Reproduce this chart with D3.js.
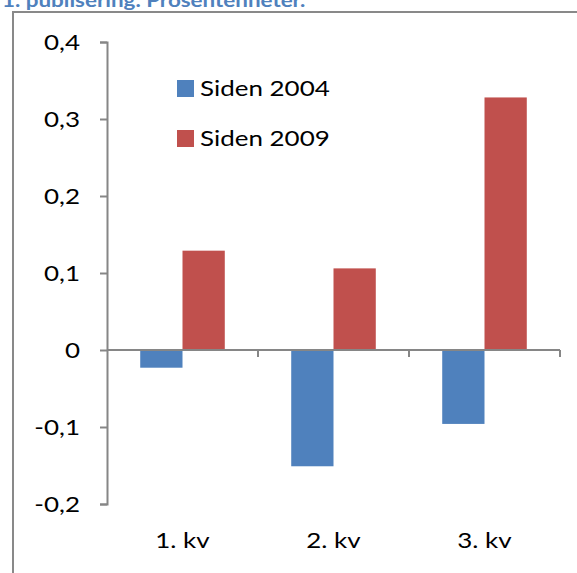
<!DOCTYPE html>
<html>
<head>
<meta charset="utf-8">
<script src="https://cdn.jsdelivr.net/npm/d3@7"></script>
<style>
  body { margin: 0; background: #fff; }
  svg text { font-family: Lato, "Open Sans", sans-serif; fill: #000; }
</style>
</head>
<body>
<div id="chart"></div>
<script>
const categories = ["1. kv", "2. kv", "3. kv"];
const seriesNames = ["Siden 2004", "Siden 2009"];
const siden2004 = [-0.023, -0.151, -0.096];
const siden2009 = [0.129, 0.106, 0.328];
const yTicks = [-0.2, -0.1, 0, 0.1, 0.2, 0.3, 0.4];
const colors = ["#4f81bd", "#c0504d"];
const title = "1. publisering. Prosentenheter.";

var width = 577, height = 573;
var plot = {left: 107, right: 560, top: 42, bottom: 504};
var stretch = 1.18; // the source font (Calibri-like) renders wider than Lato here

var svg = d3.select("#chart").append("svg")
    .attr("width", width)
    .attr("height", height);

svg.append("rect").attr("width", width).attr("height", height).attr("fill", "#fff");

// put a text at (x,y), widened horizontally
function place(sel, px, py) {
  sel.attr("x", 0).attr("y", 0)
     .attr("transform", "translate(" + px + "," + py + ") scale(" + stretch + ",1)");
}

// title, cut off at the top like the source
svg.append("text")
    .attr("font-weight", "bold")
    .attr("font-size", 19)
    .style("fill", "#4f81bd")
    .text(title)
    .call(place, 2, 7);

// frame
svg.append("path")
    .attr("d", "M13," + height + "V12H" + width)
    .attr("fill", "none")
    .attr("stroke", "#898989")
    .attr("stroke-width", 2);

var locale = d3.formatLocale({decimal: ",", thousands: " ", grouping: [3], currency: ["", " kr"], minus: "-"});
var fmt = locale.format(".1f");

var y = d3.scaleLinear().domain([-0.2, 0.4]).range([plot.bottom, plot.top]);

var x = d3.scaleBand()
    .domain(categories)
    .range([plot.left, plot.right])
    .paddingInner(0.44)
    .paddingOuter(0.22);

var xs = d3.scaleBand().domain(seriesNames).range([0, x.bandwidth()]);

var rows = categories.map(function(c, i) {
  return {cat: c, vals: [siden2004[i], siden2009[i]]};
});

// bars
svg.append("g").selectAll("g")
    .data(rows)
    .enter().append("g")
    .attr("transform", function(d) {return "translate(" + x(d.cat) + ",0)"})
    .selectAll("rect")
    .data(function(d) {return d.vals.map(function(v, j) {return {name: seriesNames[j], v: v, j: j}})})
    .enter().append("rect")
    .attr("x", function(d) {return xs(d.name)})
    .attr("width", xs.bandwidth())
    .attr("y", function(d) {return y(Math.max(0, d.v))})
    .attr("height", function(d) {return Math.abs(y(d.v) - y(0))})
    .attr("fill", function(d) {return colors[d.j]});

// y axis
var yAxis = svg.append("g")
    .attr("transform", "translate(" + plot.left + ",0)")
    .call(d3.axisLeft(y).tickValues(yTicks).tickSize(7).tickPadding(20)
      .tickFormat(function(d) {return d === 0 ? "0" : fmt(d)}));
yAxis.select(".domain").attr("stroke", "#868686").attr("stroke-width", 2);
yAxis.selectAll(".tick line").attr("stroke", "#868686").attr("stroke-width", 2);
yAxis.selectAll(".tick text")
    .attr("font-size", 22).attr("font-family", "Lato").attr("dy", "0.36em")
    .attr("x", 0)
    .attr("transform", "translate(-27,0) scale(" + stretch + ",1)");

// x axis line at zero with ticks between the categories
var xAxis = svg.append("g");
xAxis.append("line")
    .attr("x1", plot.left).attr("x2", plot.right)
    .attr("y1", y(0)).attr("y2", y(0))
    .attr("stroke", "#868686").attr("stroke-width", 2);
xAxis.selectAll("line.tk")
    .data(d3.range(1, categories.length + 1))
    .enter().append("line")
    .attr("class", "tk")
    .attr("x1", function(i) {return plot.left + i * x.step()})
    .attr("x2", function(i) {return plot.left + i * x.step()})
    .attr("y1", y(0)).attr("y2", y(0) + 7)
    .attr("stroke", "#868686").attr("stroke-width", 2);

// category labels at the bottom
svg.append("g").selectAll("text")
    .data(categories)
    .enter().append("text")
    .attr("text-anchor", "middle")
    .attr("font-size", 22)
    .text(function(d) {return d})
    .each(function(d) {d3.select(this).call(place, x(d) + x.bandwidth() / 2, 548)});

// legend
var legend = svg.append("g").selectAll("g")
    .data(seriesNames)
    .enter().append("g")
    .attr("transform", function(d, i) {return "translate(177," + (80 + i * 50) + ")"});
legend.append("rect")
    .attr("width", 17).attr("height", 17)
    .attr("fill", function(d, i) {return colors[i]});
legend.append("text")
    .attr("font-size", 22)
    .text(function(d) {return d})
    .call(place, 23, 16);
</script>
</body>
</html>
